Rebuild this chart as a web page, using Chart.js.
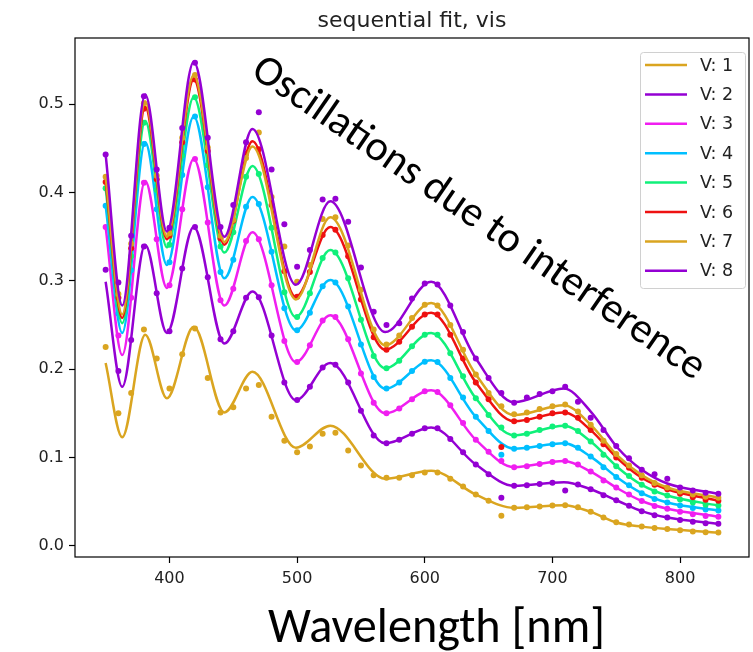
<!DOCTYPE html>
<html>
<head>
<meta charset="utf-8">
<script src="https://cdn.jsdelivr.net/npm/chart.js@4.4.1/dist/chart.umd.min.js"></script>
<style>
  html, body { margin: 0; padding: 0; background: #fff; }
</style>
</head>
<body>
<canvas id="myChart" width="753" height="652"></canvas>
<script>
// fitted curves at the turning points
const fitWavelengths = [350, 363, 381, 398, 419, 443, 465, 499, 526, 569, 605, 640, 670, 709, 730, 751, 770, 790, 830];
const fitV1 = [0.207, 0.123, 0.239, 0.167, 0.248, 0.151, 0.197, 0.111, 0.136, 0.076, 0.085, 0.058, 0.043, 0.046, 0.0384, 0.026, 0.0217, 0.019, 0.015];
const fitV2 = [0.299, 0.180, 0.341, 0.241, 0.361, 0.229, 0.288, 0.165, 0.207, 0.116, 0.134, 0.092, 0.068, 0.072, 0.064, 0.051, 0.0392, 0.032, 0.025];
const fitV3 = [0.361, 0.216, 0.413, 0.292, 0.438, 0.272, 0.355, 0.208, 0.261, 0.150, 0.176, 0.120, 0.089, 0.096, 0.084, 0.065, 0.0507, 0.042, 0.033];
const fitV4 = [0.385, 0.241, 0.457, 0.318, 0.486, 0.303, 0.395, 0.244, 0.301, 0.178, 0.210, 0.146, 0.110, 0.116, 0.101, 0.077, 0.0596, 0.049, 0.040];
const fitV5 = [0.405, 0.252, 0.481, 0.338, 0.508, 0.332, 0.430, 0.259, 0.335, 0.201, 0.241, 0.167, 0.125, 0.136, 0.118, 0.089, 0.069, 0.057, 0.0455];
const fitV6 = [0.412, 0.258, 0.497, 0.347, 0.528, 0.341, 0.458, 0.282, 0.361, 0.222, 0.264, 0.185, 0.141, 0.151, 0.131, 0.099, 0.077, 0.064, 0.051];
const fitV7 = [0.418, 0.262, 0.503, 0.350, 0.533, 0.344, 0.452, 0.279, 0.372, 0.227, 0.275, 0.194, 0.148, 0.159, 0.137, 0.102, 0.080, 0.066, 0.0545];
const fitV8 = [0.443, 0.272, 0.511, 0.356, 0.548, 0.350, 0.472, 0.2955, 0.390, 0.242, 0.299, 0.212, 0.1625, 0.178, 0.152, 0.111, 0.086, 0.0705, 0.059];

// measured points (dots), every 10 nm
const dotWavelengths = [350, 360, 370, 380, 390, 400, 410, 420, 430, 440, 450, 460, 470, 480, 490, 500, 510, 520, 530, 540, 550, 560, 570, 580, 590, 600, 610, 620, 630, 640, 650, 660, 670, 680, 690, 700, 710, 720, 730, 740, 750, 760, 770, 780, 790, 800, 810, 820, 830];
const dotsV1 = [0.225, 0.150, 0.173, 0.245, 0.212, 0.178, 0.217, 0.246, 0.190, 0.151, 0.157, 0.178, 0.182, 0.146, 0.119, 0.106, 0.1125, 0.127, 0.128, 0.108, 0.091, 0.080, 0.077, 0.077, 0.080, 0.083, 0.083, 0.076, 0.067, 0.058, 0.051, 0.034, 0.043, 0.0435, 0.0446, 0.0456, 0.046, 0.0436, 0.0384, 0.032, 0.0266, 0.024, 0.0217, 0.020, 0.019, 0.0175, 0.0162, 0.0154, 0.015];
const dotsV2 = [0.3125, 0.198, 0.233, 0.339, 0.286, 0.243, 0.314, 0.361, 0.304, 0.234, 0.243, 0.281, 0.2815, 0.238, 0.185, 0.165, 0.180, 0.202, 0.205, 0.185, 0.153, 0.125, 0.116, 0.120, 0.127, 0.133, 0.133, 0.121, 0.106, 0.092, 0.081, 0.0545, 0.068, 0.0686, 0.070, 0.0715, 0.0625, 0.0695, 0.064, 0.0573, 0.0516, 0.0453, 0.0392, 0.0346, 0.032, 0.0293, 0.0271, 0.0256, 0.025];
const dotsV3 = [0.361, 0.238, 0.281, 0.411, 0.347, 0.295, 0.381, 0.438, 0.366, 0.278, 0.291, 0.345, 0.347, 0.295, 0.232, 0.208, 0.227, 0.255, 0.259, 0.234, 0.195, 0.162, 0.150, 0.1555, 0.166, 0.175, 0.174, 0.159, 0.139, 0.120, 0.1064, 0.096, 0.089, 0.090, 0.0926, 0.095, 0.096, 0.092, 0.084, 0.074, 0.066, 0.058, 0.0507, 0.045, 0.042, 0.0385, 0.0357, 0.0338, 0.033];
const dotsV4 = [0.385, 0.263, 0.312, 0.455, 0.381, 0.321, 0.420, 0.486, 0.406, 0.310, 0.324, 0.384, 0.387, 0.333, 0.269, 0.244, 0.264, 0.294, 0.298, 0.271, 0.228, 0.191, 0.178, 0.185, 0.198, 0.2085, 0.208, 0.190, 0.168, 0.146, 0.130, 0.103, 0.110, 0.111, 0.113, 0.115, 0.116, 0.111, 0.101, 0.089, 0.078, 0.0686, 0.0596, 0.053, 0.049, 0.0455, 0.0427, 0.041, 0.040];
const dotsV5 = [0.405, 0.275, 0.328, 0.479, 0.403, 0.341, 0.442, 0.508, 0.431, 0.339, 0.355, 0.418, 0.421, 0.360, 0.287, 0.259, 0.286, 0.326, 0.332, 0.303, 0.256, 0.215, 0.201, 0.2095, 0.226, 0.239, 0.239, 0.218, 0.192, 0.167, 0.148, 0.134, 0.125, 0.127, 0.131, 0.135, 0.136, 0.130, 0.118, 0.103, 0.090, 0.079, 0.069, 0.0615, 0.057, 0.0525, 0.049, 0.0465, 0.0455];
const dotsV6 = [0.412, 0.281, 0.337, 0.495, 0.415, 0.351, 0.457, 0.528, 0.447, 0.348, 0.368, 0.444, 0.449, 0.386, 0.311, 0.282, 0.310, 0.352, 0.358, 0.328, 0.279, 0.236, 0.222, 0.231, 0.248, 0.262, 0.262, 0.239, 0.212, 0.185, 0.166, 0.112, 0.141, 0.1425, 0.146, 0.150, 0.151, 0.145, 0.131, 0.115, 0.100, 0.0885, 0.077, 0.069, 0.064, 0.059, 0.055, 0.052, 0.051];
const dotsV7 = [0.418, 0.285, 0.342, 0.501, 0.419, 0.354, 0.462, 0.533, 0.451, 0.351, 0.369, 0.439, 0.468, 0.395, 0.339, 0.299, 0.318, 0.370, 0.372, 0.340, 0.290, 0.245, 0.228, 0.238, 0.258, 0.273, 0.272, 0.250, 0.222, 0.194, 0.173, 0.158, 0.149, 0.151, 0.155, 0.158, 0.160, 0.152, 0.137, 0.119, 0.104, 0.091, 0.080, 0.071, 0.066, 0.0615, 0.058, 0.0555, 0.0545];
const dotsV8 = [0.443, 0.298, 0.351, 0.509, 0.426, 0.360, 0.473, 0.547, 0.462, 0.361, 0.386, 0.457, 0.491, 0.426, 0.364, 0.316, 0.335, 0.392, 0.393, 0.367, 0.315, 0.265, 0.250, 0.252, 0.280, 0.297, 0.296, 0.272, 0.242, 0.212, 0.190, 0.173, 0.162, 0.168, 0.172, 0.175, 0.180, 0.163, 0.145, 0.131, 0.113, 0.099, 0.086, 0.081, 0.076, 0.066, 0.0625, 0.060, 0.059];

const seriesLabels = ["V: 1", "V: 2", "V: 3", "V: 4", "V: 5", "V: 6", "V: 7", "V: 8"];
const xTickValues = [400, 500, 600, 700, 800];
const yTickValues = [0.0, 0.1, 0.2, 0.3, 0.4, 0.5];

const fits = [fitV1, fitV2, fitV3, fitV4, fitV5, fitV6, fitV7, fitV8];
const dots = [dotsV1, dotsV2, dotsV3, dotsV4, dotsV5, dotsV6, dotsV7, dotsV8];
const colors = ["#DAA520", "#9400D3", "#F01EF0", "#00BFFF", "#10F07A", "#EE1111", "#DAA520", "#9400D3"];

const tickFont = { family: "DejaVu Sans", size: 16 };
const bigFont = "Carlito, Lato, 'Open Sans', sans-serif";

let datasets = [];
fits.forEach((fit, i) => {
  datasets.push({
    label: seriesLabels[i],
    data: fit.map((v, j) => ({ x: fitWavelengths[j], y: v })),
    showLine: true,
    borderColor: colors[i],
    borderWidth: 2.5,
    pointRadius: 0,
    cubicInterpolationMode: "monotone",
    order: 2 * (7 - i),
    isFit: true,
  });
  datasets.push({
    label: seriesLabels[i] + " data",
    data: dots[i].map((v, j) => ({ x: dotWavelengths[j], y: v })),
    showLine: false,
    pointRadius: 3,
    pointBorderWidth: 0,
    pointBackgroundColor: colors[i],
    borderColor: colors[i],
    order: 2 * (7 - i) + 1,
  });
});

function fitFontSize(ctx, text, family, width) {
  ctx.font = "100px " + family;
  return (100 * width) / ctx.measureText(text).width;
}

// frame, title, legend and the overlaid texts
const extras = {
  id: "extras",
  afterDraw(chart) {
    const ctx = chart.ctx;
    const a = chart.chartArea;
    ctx.save();
    ctx.strokeStyle = "#000";
    ctx.lineWidth = 1.2;
    ctx.strokeRect(a.left, a.top, a.right - a.left, a.bottom - a.top);

    ctx.fillStyle = "#222";
    ctx.font = "22px 'DejaVu Sans'";
    ctx.textAlign = "center";
    ctx.textBaseline = "middle";
    ctx.fillText("sequential fit, vis", (a.left + a.right) / 2, 21);

    // legend
    ctx.fillStyle = "rgba(255,255,255,0.85)";
    ctx.strokeStyle = "#d0d0d0";
    ctx.lineWidth = 1;
    ctx.beginPath();
    ctx.roundRect(640.5, 52.5, 105, 236, 3);
    ctx.fill();
    ctx.stroke();
    const fitSets = chart.data.datasets.filter((d) => d.isFit);
    ctx.font = "17.5px 'DejaVu Sans'";
    ctx.textAlign = "left";
    fitSets.forEach((d, i) => {
      const y = 65 + i * 29.4;
      ctx.strokeStyle = d.borderColor;
      ctx.lineWidth = 2.5;
      ctx.beginPath();
      ctx.moveTo(645, y);
      ctx.lineTo(687, y);
      ctx.stroke();
      ctx.fillStyle = "#222";
      ctx.fillText(d.label, 700, y + 1);
    });

    // annotation
    const note = "Oscillations due to interference";
    const ns = fitFontSize(ctx, note, bigFont, 540);
    ctx.translate(478, 219);
    ctx.rotate((34.5 * Math.PI) / 180);
    ctx.font = ns + "px " + bigFont;
    ctx.fillStyle = "#000";
    ctx.textAlign = "center";
    ctx.textBaseline = "middle";
    ctx.fillText(note, 0, 0);
    ctx.setTransform(1, 0, 0, 1, 0, 0);

    const xl = "Wavelength [nm]";
    const xs = fitFontSize(ctx, xl, bigFont, 337);
    ctx.font = xs + "px " + bigFont;
    ctx.fillStyle = "#000";
    ctx.textAlign = "center";
    ctx.textBaseline = "middle";
    ctx.fillText(xl, 436.5, 630);
    ctx.restore();
  },
};

new Chart(document.getElementById("myChart"), {
  type: "scatter",
  data: { datasets: datasets },
  options: {
    responsive: false,
    animation: false,
    devicePixelRatio: 1,
    layout: { padding: { top: 38, right: 1, left: 0, bottom: 0 } },
    plugins: { legend: { display: false }, tooltip: { enabled: false } },
    scales: {
      x: {
        type: "linear",
        min: 326,
        max: 854,
        afterBuildTicks: (axis) => {
          axis.ticks = xTickValues.map((v) => ({ value: v }));
        },
        afterFit: (scale) => {
          scale.height = 95;
        },
        border: { display: false },
        grid: { drawOnChartArea: false, drawTicks: true, tickLength: 6, color: "#000", tickWidth: 1.2 },
        ticks: { font: tickFont, color: "#222", padding: 6, maxRotation: 0 },
      },
      y: {
        type: "linear",
        min: -0.0127,
        max: 0.575,
        afterBuildTicks: (axis) => {
          axis.ticks = yTickValues.map((v) => ({ value: v }));
        },
        afterFit: (scale) => {
          scale.width = 75;
        },
        border: { display: false },
        grid: { drawOnChartArea: false, drawTicks: true, tickLength: 6, color: "#000", tickWidth: 1.2 },
        ticks: { font: tickFont, color: "#222", padding: 5, callback: (v) => v.toFixed(1) },
      },
    },
  },
  plugins: [extras],
});
</script>
</body>
</html>
